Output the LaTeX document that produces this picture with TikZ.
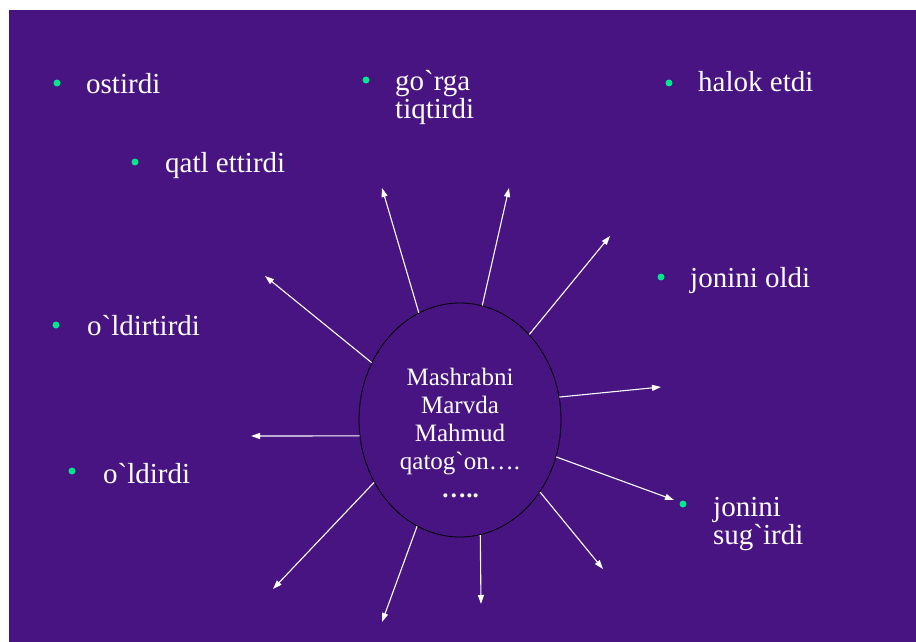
\documentclass[tikz,border=0pt]{standalone}
\usepackage{fontspec}
\setmainfont{Liberation Serif}
\usetikzlibrary{arrows.meta,positioning,shapes.geometric}
\definecolor{slidebg}{RGB}{72,20,130}
\definecolor{bulletgreen}{RGB}{0,230,140}

\begin{document}
\begin{tikzpicture}[
    x=1pt, y=-1pt,
    item/.style={text=white, anchor=base west, inner sep=0pt, align=left,
                 font=\fontsize{29}{28}\selectfont},
    dot/.style={circle, fill=bulletgreen, inner sep=0pt, minimum size=7pt},
    ray/.style={white, line width=1.1pt, -{Triangle[length=9pt,width=6pt]}}
]
\useasboundingbox (0,0) rectangle (916,642);
\fill[slidebg] (9,10) rectangle (916,642);

% centre
\node[ellipse, draw=black, line width=0.8pt, minimum width=202pt,
      minimum height=234pt] (core) at (460,420) {};
\node[text=white, align=center, font=\fontsize{25}{28}\selectfont] (msg)
      at (460,433) {Mashrabni\\Marvda\\Mahmud\\qatog\textasciigrave on….\\{\bfseries …..}};

% items (base = last line)
\node[item] (ostirdi) at (86,93) {ostirdi};
\node[dot] (d1) at (57,83) {};
\node[item] (gorga) at (395,118) {go\textasciigrave rga\\tiqtirdi};
\node[dot] (d2) at (366,80) {};
\node[item] (halok) at (698,92) {halok etdi};
\node[dot] (d3) at (669,83) {};
\node[item] (qatl) at (165,172) {qatl ettirdi};
\node[dot] (d4) at (135,162) {};
\node[item] (oldi) at (690,287) {jonini oldi};
\node[dot] (d5) at (661,277) {};
\node[item] (oldirtirdi) at (87,335) {o\textasciigrave ldirtirdi};
\node[dot] (d6) at (56,325) {};
\node[item] (oldirdi) at (103,483) {o\textasciigrave ldirdi};
\node[dot] (d7) at (72,471) {};
\node[item] (sugirdi) at (713,544) {jonini\\sug\textasciigrave irdi};
\node[dot] (d8) at (683,504) {};

% rays
\foreach \i/\a/\x/\y in {1/111.6/382/188, 2/79.8/509/188, 3/51.9/610/236,
    4/13.2/661/387, 5/339.9/674/500, 6/318.5/603/569, 7/280.8/481/604,
    8/248.4/382/622, 9/216/273/589, 10/189/251/436, 11/147.7/265/276}{
  \coordinate (tip\i) at (\x,\y);
  \draw[ray] (core.\a) -- (tip\i);
}
\end{tikzpicture}
\end{document}
